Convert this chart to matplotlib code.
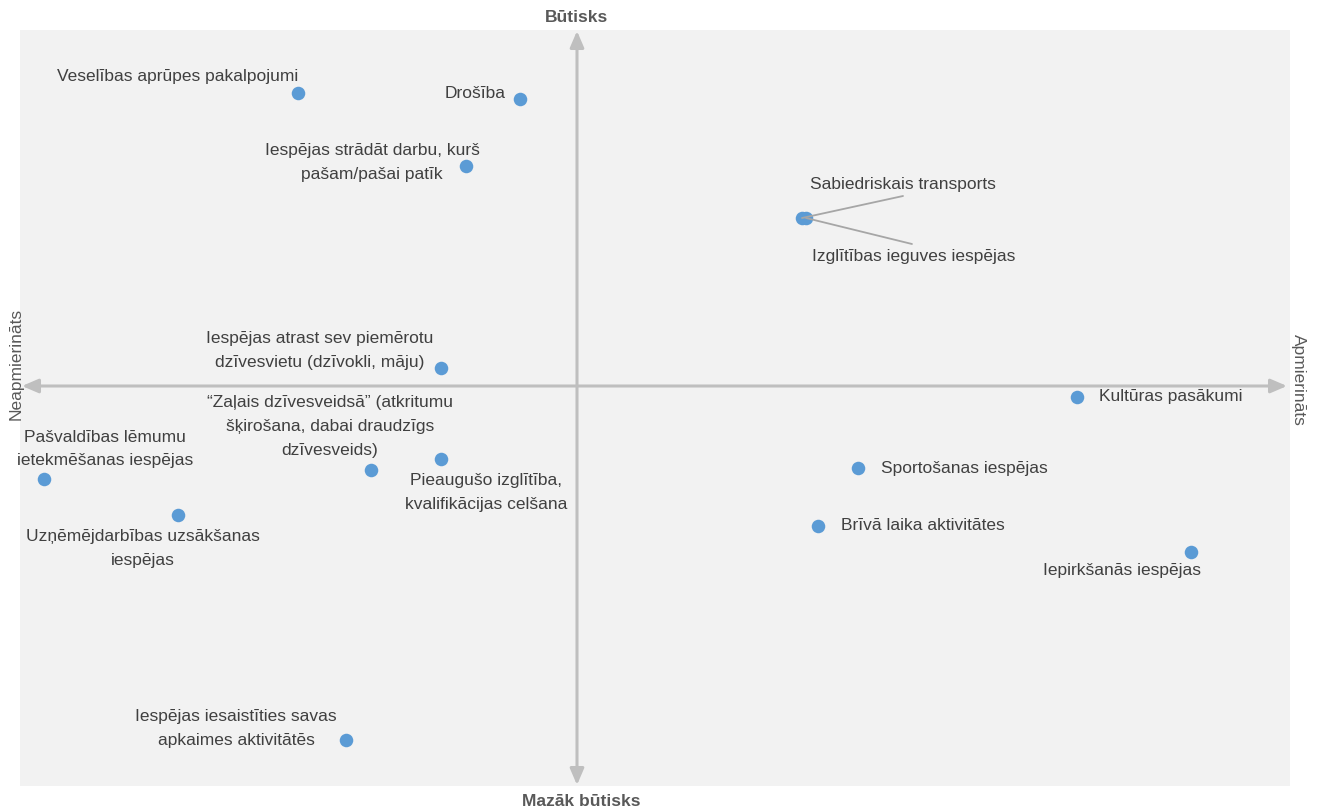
import matplotlib.pyplot as plt

# satisfaction (x) and importance (y), axes cross at 0
labels = [
    "Veselības aprūpes pakalpojumi",
    "Drošība",
    "Iespējas strādāt darbu, kurš\npašam/pašai patīk",
    "Sabiedriskais transports",
    "Izglītības ieguves iespējas",
    "Iespējas atrast sev piemērotu\ndzīvesvietu (dzīvokli, māju)",
    "“Zaļais dzīvesveidsā” (atkritumu\nšķirošana, dabai draudzīgs\ndzīvesveids)",
    "Pieaugušo izglītība,\nkvalifikācijas celšana",
    "Pašvaldības lēmumu\nietekmēšanas iespējas",
    "Uzņēmējdarbības uzsākšanas\niespējas",
    "Iespējas iesaistīties savas\napkaimes aktivitātēs",
    "Kultūras pasākumi",
    "Sportošanas iespējas",
    "Brīvā laika aktivitātes",
    "Iepirkšanās iespējas",
]
satisfaction = [-2.79, -0.57, -1.11, 2.25, 2.29, -1.36, -2.06, -1.36,
                -5.33, -3.99, -2.31, 5.00, 2.81, 2.41, 6.14]
importance = [2.93, 2.87, 2.20, 1.68, 1.68, 0.18, -0.84, -0.73,
              -0.93, -1.29, -3.54, -0.11, -0.82, -1.40, -1.66]

# label placement (offset in pixels from point, alignment)
offsets = [(-120, 16, "center"), (-14, 6, "right"), (-94, 3, "center"),
           (101, 34, "center"), (108, -38, "center"), (-121, 17, "center"),
           (-41, 44, "center"), (45, -34, "center"), (61, 30, "center"),
           (-35, -33, "center"), (-110, 11, "center"), (22, 0, "left"),
           (23, 0, "left"), (23, 0, "left"), (-69, -19, "center")]
leaders = {3: (0.5, -0.3), 4: (0.49, 1.3)}

plt.rcParams['font.family'] = ['Liberation Sans Narrow', 'Liberation Sans', 'DejaVu Sans']
txt = "#404040"
axis_col = "#bfbfbf"

W, H = 1319, 811
fig = plt.figure(figsize=(W / 100, H / 100), dpi=100)
left, right, top, bottom = 20, 1290, 30, 786
ax = fig.add_axes([left / W, 1 - bottom / H, (right - left) / W, (bottom - top) / H])
ax.set_facecolor("#f2f2f2")
ax.set_xlim(-5.57, 7.13)
ax.set_ylim(-4.00, 3.56)
for s in ax.spines.values():
    s.set_visible(False)
ax.set_xticks([])
ax.set_yticks([])

# double-headed axis arrows
arr = dict(arrowstyle="<|-|>,head_length=0.7,head_width=0.3", color=axis_col,
           lw=2.2, mutation_scale=14, shrinkA=0, shrinkB=0)
ax.annotate("", xy=(-5.55, 0), xytext=(7.10, 0), arrowprops=arr)
ax.annotate("", xy=(0, 3.55), xytext=(0, -3.99), arrowprops=arr)

ax.scatter(satisfaction, importance, s=95, color="#5b9bd5", zorder=3, linewidths=0)

for i, (lab, x, y) in enumerate(zip(labels, satisfaction, importance)):
    dx, dy, ha = offsets[i]
    kw = {}
    if i in leaders:
        kw["arrowprops"] = dict(arrowstyle="-", color="#a6a6a6", lw=1.3,
                                relpos=leaders[i], shrinkA=0, shrinkB=0)
    ax.annotate(lab, xy=(x, y), xytext=(dx, dy), textcoords="offset pixels",
                ha=ha, va="center", multialignment="center", fontsize=12.5,
                color=txt, linespacing=1.75, zorder=4, **kw)

fig.text(576 / W, 1 - 18 / H, "Būtisks", ha="center", va="center",
         fontsize=12.5, fontweight="bold", color="#595959")
fig.text(581 / W, 1 - 801 / H, "Mazāk būtisks", ha="center", va="center",
         fontsize=12.5, fontweight="bold", color="#595959")
fig.text(16 / W, 1 - 364 / H, "Neapmierināts", ha="center", va="center",
         rotation=90, fontsize=12.5, color="#595959")
fig.text(1298 / W, 1 - 380 / H, "Apmierināts", ha="center", va="center",
         rotation=-90, fontsize=12.5, color="#595959")

fig.savefig("out.png", dpi=100)
